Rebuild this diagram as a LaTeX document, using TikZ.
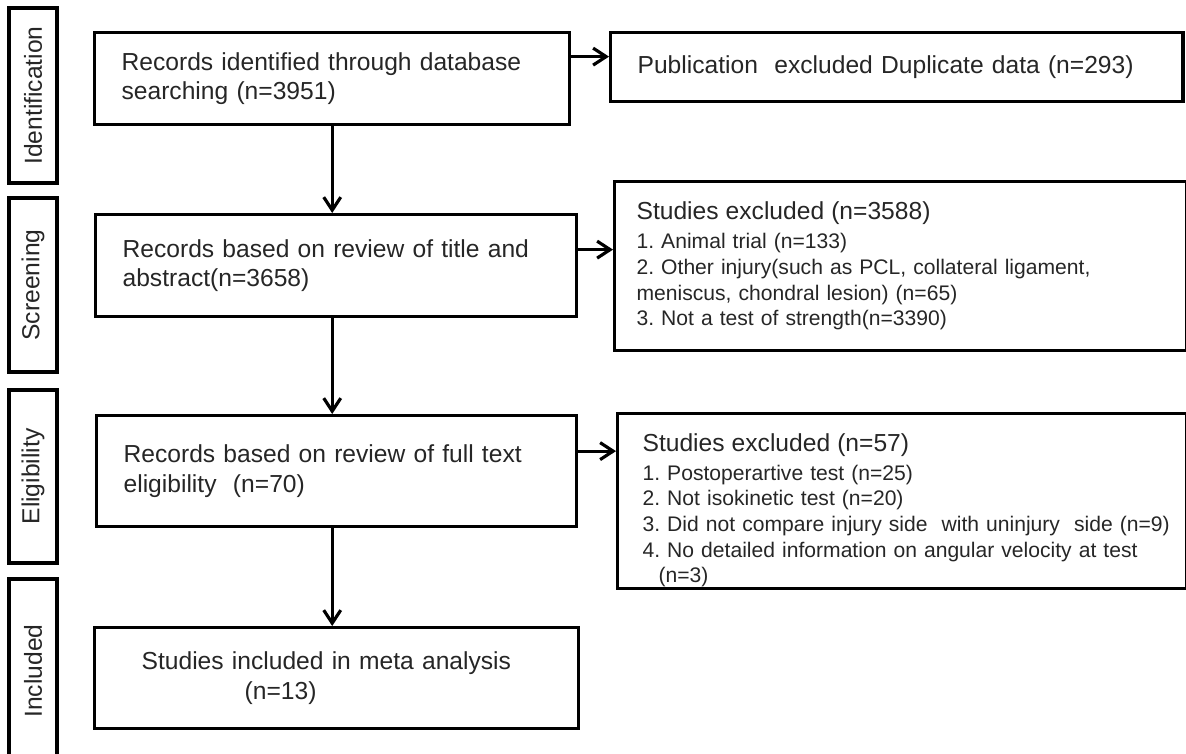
\documentclass[tikz,border=0pt]{standalone}
\usepackage{fontspec}
\setmainfont{Liberation Sans}
\usetikzlibrary{arrows.meta,positioning}

\begin{document}
\frenchspacing
\begin{tikzpicture}[x=0.01cm, y=-0.01cm, every node/.style={font=\fontsize{7}{8.5}\selectfont, text=black!85}, stage/.style={draw, line width=0.9pt, rotate=90, minimum height=0.48cm, inner sep=0pt}, box/.style={draw, line width=0.9pt, anchor=north west, align=left, inner xsep=0.27cm, inner ysep=0pt}, small/.style={font=\fontsize{6}{7.3}\selectfont}, arr/.style={-{Straight Barb[length=1.3mm,width=1.7mm]}, line width=0.9pt}]
\useasboundingbox (0,0) rectangle (1186,753);
\foreach \y/\h/\name in {95.5/1.75/Identification,285/1.74/Screening,476.5/1.73/Eligibility,671/1.84/Included} {\node[stage, minimum width=\h cm] (s\name) at (33,\y) {\name};}
\node[box, text width=4.21cm, minimum height=0.92cm] (ident) at (93,31) {Records identified through database\\searching (n=3951)};
\node[box, text width=4.27cm, minimum height=1.02cm] (screen) at (94,213) {Records based on review of title and\\abstract(n=3658)};
\node[box, text width=4.26cm, minimum height=1.11cm] (elig) at (95,414) {Records based on review of full text\\eligibility~ (n=70)};
\node[box, inner xsep=0.47cm, text width=3.90cm, minimum height=1.01cm] (incl) at (93,626) {Studies included in meta analysis\\\hspace*{1.03cm}(n=13)};
\node[box, text width=5.18cm, minimum height=0.69cm] (pub) at (609,31) {Publication~ excluded Duplicate data (n=293)};
\node[box, small, inner xsep=0.22cm, text width=5.28cm, minimum height=1.69cm] (excl1) at (613,180) {{\fontsize{7}{8.5}\selectfont Studies excluded (n=3588)}\\[1pt]1. Animal trial (n=133)\\2. Other injury(such as PCL, collateral ligament,\\meniscus, chondral lesion) (n=65)\\3. Not a test of strength(n=3390)};
\node[box, small, inner xsep=0.25cm, text width=5.19cm, minimum height=1.75cm] (excl2) at (616,412) {\rule{0pt}{0.36cm}{\fontsize{7}{8.5}\selectfont Studies excluded (n=57)}\\[1pt]1. Postoperartive test (n=25)\\2. Not isokinetic test (n=20)\\\mbox{3. Did not compare injury side~ with uninjury~ side (n=9)}\\4. No detailed information on angular velocity at test\\\hspace*{0.16cm}(n=3)};
\draw[arr] (ident.south) -- (ident.south |- screen.north);
\draw[arr] (screen.south -| ident.south) -- (elig.north -| ident.south);
\draw[arr] (elig.south -| ident.south) -- (incl.north -| ident.south);
\draw[arr] ([yshift=0.22cm]ident.east) -- ([yshift=0.22cm]ident.east -| pub.west);
\draw[arr] ([yshift=0.16cm]screen.east) -- ([yshift=0.16cm]screen.east -| excl1.west);
\draw[arr] ([yshift=0.2cm]elig.east) -- ([yshift=0.2cm]elig.east -| excl2.west);
\end{tikzpicture}
\end{document}
